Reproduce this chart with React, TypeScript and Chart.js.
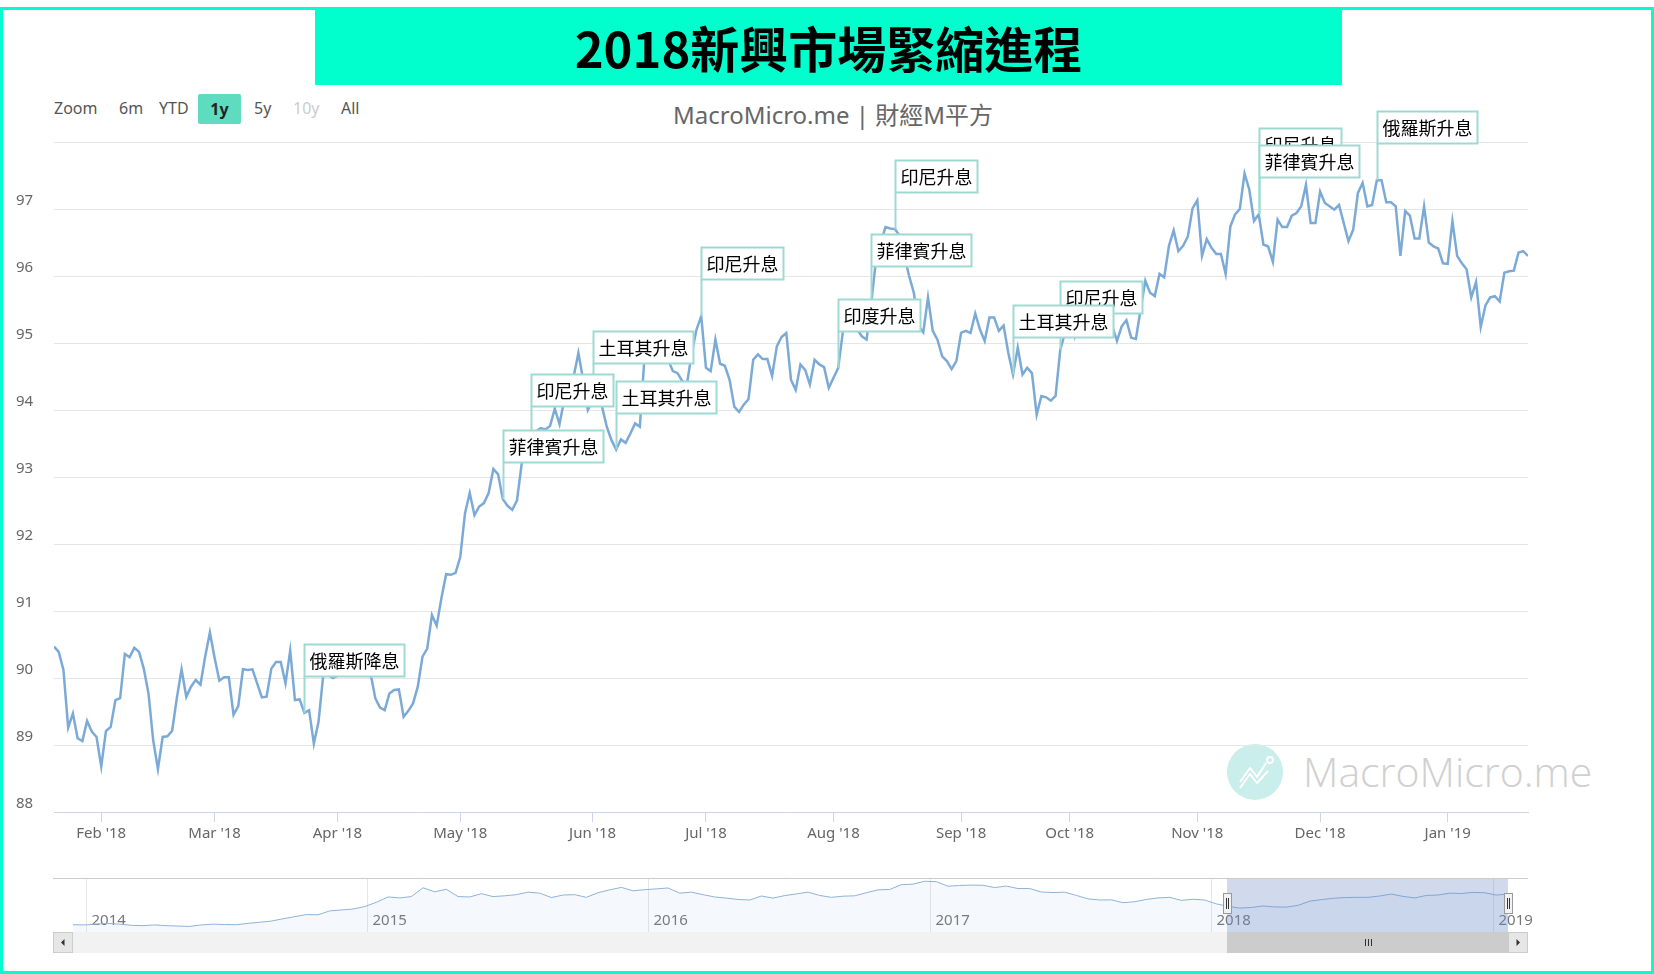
import React, { useEffect, useRef } from "react";
import { Chart, registerables } from "chart.js";

Chart.register(...registerables);

// ---- Main series: US Dollar Index, daily, Jan 2018 – Jan 2019 ----
const dxyValues: number[] = [
  90.47, 90.39, 90.12, 89.26, 89.47, 89.10, 89.06, 89.36, 89.20, 89.12, // 0
  88.68, 89.21, 89.27, 89.67, 89.70, 90.36, 90.31, 90.45, 90.39, 90.14, // 10
  89.77, 89.07, 88.64, 89.12, 89.13, 89.21, 89.70, 90.13, 89.72, 89.87, // 20
  89.97, 89.90, 90.32, 90.68, 90.30, 89.96, 90.01, 90.01, 89.45, 89.58, // 30
  90.13, 90.12, 90.13, 89.92, 89.71, 89.72, 90.14, 90.24, 90.24, 89.92, // 40
  90.41, 89.67, 89.68, 89.48, 89.52, 89.02, 89.35, 90.05, 90.05, 90.00, // 50
  90.03, 90.10, 90.20, 90.30, 90.25, 90.15, 90.10, 90.07, 89.70, 89.56, // 60
  89.52, 89.77, 89.82, 89.83, 89.42, 89.51, 89.62, 89.87, 90.32, 90.44, // 70
  90.94, 90.78, 91.19, 91.55, 91.54, 91.57, 91.81, 92.46, 92.76, 92.43, // 80
  92.56, 92.61, 92.76, 93.12, 93.04, 92.67, 92.57, 92.51, 92.65, 93.20, // 90
  93.35, 93.50, 93.68, 93.73, 93.71, 93.76, 94.02, 93.79, 94.15, 94.30, // 100
  94.50, 94.85, 94.45, 94.00, 94.15, 94.25, 94.05, 93.75, 93.55, 93.41, // 110
  93.56, 93.51, 93.65, 93.80, 93.75, 94.80, 94.95, 95.00, 94.90, 94.85, // 120
  94.75, 94.58, 94.55, 94.43, 94.40, 94.85, 95.20, 95.40, 94.63, 94.58, // 130
  95.05, 94.69, 94.66, 94.45, 94.05, 93.97, 94.08, 94.16, 94.75, 94.83, // 140
  94.76, 94.76, 94.51, 94.95, 95.09, 95.15, 94.45, 94.30, 94.68, 94.60, // 150
  94.38, 94.75, 94.68, 94.64, 94.33, 94.48, 94.63, 95.18, 95.20, 95.25, // 160
  95.20, 95.10, 95.05, 95.60, 96.25, 96.50, 96.73, 96.71, 96.70, 96.60, // 170
  96.30, 96.00, 95.75, 95.25, 95.16, 95.68, 95.18, 95.05, 94.80, 94.73, // 180
  94.61, 94.73, 95.15, 95.18, 95.15, 95.44, 95.20, 95.03, 95.38, 95.38, // 190
  95.18, 95.26, 94.85, 94.53, 94.93, 94.53, 94.63, 94.55, 93.93, 94.21, // 200
  94.19, 94.14, 94.21, 94.90, 95.15, 95.30, 95.10, 95.50, 95.80, 95.60, // 210
  95.55, 95.70, 95.65, 95.30, 95.25, 95.03, 95.25, 95.34, 95.08, 95.06, // 220
  95.50, 95.93, 95.75, 95.70, 96.03, 95.98, 96.45, 96.68, 96.37, 96.45, // 230
  96.59, 97.01, 97.13, 96.30, 96.55, 96.42, 96.33, 96.33, 96.03, 96.74, // 240
  96.92, 97.00, 97.53, 97.29, 96.82, 96.92, 96.47, 96.44, 96.21, 96.84, // 250
  96.73, 96.73, 96.90, 96.94, 97.04, 97.36, 96.79, 96.79, 97.26, 97.09, // 260
  97.04, 96.99, 97.06, 96.79, 96.52, 96.69, 97.24, 97.39, 97.04, 97.06, // 270
  97.43, 97.43, 97.10, 97.10, 97.04, 96.30, 96.97, 96.90, 96.56, 96.56, // 280
  97.04, 96.50, 96.44, 96.41, 96.19, 96.18, 96.82, 96.30, 96.19, 96.10, // 290
  95.68, 95.91, 95.24, 95.56, 95.68, 95.70, 95.62, 96.05, 96.07, 96.08, // 300
  96.35, 96.37, 96.30, // 310
];

// Month ticks (index of first trading day of each month in dxyValues)
const monthTickIndex: number[] = [10, 34, 60, 86, 114, 138, 165, 192, 215, 242, 268, 295];
const monthTickLabels: string[] = [
  "Feb '18", "Mar '18", "Apr '18", "May '18", "Jun '18", "Jul '18",
  "Aug '18", "Sep '18", "Oct '18", "Nov '18", "Dec '18", "Jan '19",
];

// Y axis
const yMin = 88;
const yMax = 98;

// Flags (rate decisions): data index + text
const flagIndex: number[] = [53, 95, 101, 114, 119, 137, 166, 173, 178, 203, 213, 255, 255, 280];
const flagText: string[] = [
  "俄羅斯降息", "菲律賓升息", "印尼升息", "土耳其升息", "土耳其升息", "印尼升息", "印度升息",
  "菲律賓升息", "印尼升息", "土耳其升息", "印尼升息", "菲律賓升息", "印尼升息", "俄羅斯升息",
];
const flagSeriesOrder: string[] = ["印尼", "印度", "菲律賓", "土耳其", "俄羅斯"];

// ---- Navigator series: Dollar index, half-monthly, Dec 2013 – Jan 2019 ----
const navValues: number[] = [
  80.3, 80.2,
  80.6, 81.0, 80.6, 80.0, 79.8, 80.2, 79.8, 79.6, 79.4, 80.2, 80.6, 80.4,
  80.3, 81.0, 81.6, 82.2, 83.4, 84.5, 85.6, 85.5, 87.5, 88.0, 88.5, 89.8,
  92.0, 94.8, 94.3, 95.0, 99.6, 97.5, 98.8, 95.0, 94.8, 96.5, 95.0, 95.4,
  96.0, 97.3, 96.8, 94.5, 95.8, 96.0, 94.6, 97.0, 98.5, 99.8, 98.0, 98.6,
  99.0, 99.5, 96.8, 97.3, 96.0, 94.8, 94.2, 93.5, 93.2, 95.3, 94.2, 95.5,
  96.4, 97.3, 95.6, 94.6, 95.2, 95.4, 97.0, 98.5, 98.7, 101.2, 101.5, 103.0,
  102.8, 100.4, 100.8, 101.0, 100.9, 99.7, 100.5, 99.2, 99.2, 97.4, 97.1, 97.3,
  95.6, 93.8, 93.2, 93.3, 91.8, 92.3, 93.5, 94.3, 94.6, 93.0, 93.6, 93.2,
  91.2, 89.9, 89.0, 89.3, 90.1, 89.6, 89.5, 90.4, 92.6, 93.4, 94.1, 94.5,
  94.6, 94.6, 95.3, 96.3, 95.1, 94.3, 95.6, 95.8, 96.8, 96.6, 97.2, 97.0,
  95.8, 96.3,
];
const navStart = 2013.955;
const navEnd = 2019.055;
const navYears: number[] = [2014, 2015, 2016, 2017, 2018, 2019];
const navSelection: number[] = [2018.055, 2019.055];

const LINE_COLOR = "#7caad7";
const FLAG_COLOR = "#9fd9d4";
const TEAL = "#00ffcc";
const LABEL_FONT = "'Noto Sans', 'Noto Sans CJK TC', sans-serif";

const flagPlugin = {
  id: "flagsPlugin",
  afterDatasetsDraw(chart: any) {
    const ctx = chart.ctx as CanvasRenderingContext2D;
    const xs = chart.scales.x;
    const ys = chart.scales.y;
    ctx.save();
    ctx.font = "18px 'Noto Sans CJK TC', sans-serif";
    const items = flagIndex.map((idx, k) => {
      let level = 0;
      for (let j = 0; j < k; j++) if (flagIndex[j] === idx) level++;
      const px = Math.round(xs.getPixelForValue(idx)) + 0.5;
      const py = ys.getPixelForValue(dxyValues[idx]);
      const w = Math.round(ctx.measureText(flagText[k]).width) + 10;
      const h = 32;
      const bottom = Math.round(py - 37 - level * 17) + 0.5;
      const order = flagSeriesOrder.findIndex((c) => flagText[k].startsWith(c));
      return { px, py, w, h, bottom, top: bottom - h, level, order, text: flagText[k] };
    });
    ctx.strokeStyle = FLAG_COLOR;
    ctx.lineWidth = 2;
    items.forEach((it) => {
      ctx.beginPath();
      ctx.moveTo(it.px, it.py);
      ctx.lineTo(it.px, it.bottom);
      ctx.stroke();
    });
    const sorted = [...items].sort((a, b) => (b.level - a.level) || (a.order - b.order));
    sorted.forEach((it) => {
      ctx.fillStyle = "#ffffff";
      ctx.fillRect(it.px, it.top, it.w, it.h);
      ctx.strokeStyle = FLAG_COLOR;
      ctx.lineWidth = 2;
      ctx.strokeRect(it.px, it.top, it.w, it.h);
      ctx.fillStyle = "#000000";
      ctx.textBaseline = "middle";
      ctx.textAlign = "left";
      ctx.fillText(it.text, it.px + 5, it.top + it.h / 2 + 1);
    });
    ctx.restore();
  },
};

const navPlugin = {
  id: "navPlugin",
  beforeDatasetsDraw(chart: any) {
    const ctx = chart.ctx as CanvasRenderingContext2D;
    const xs = chart.scales.x;
    const { top, bottom } = chart.chartArea;
    ctx.save();
    ctx.strokeStyle = "#e6e6e6";
    ctx.lineWidth = 1;
    ctx.fillStyle = "#777777";
    ctx.font = `15px ${LABEL_FONT}`;
    ctx.textBaseline = "middle";
    navYears.forEach((yr) => {
      const x = Math.round(xs.getPixelForValue(yr)) + 0.5;
      ctx.beginPath();
      ctx.moveTo(x, top);
      ctx.lineTo(x, bottom);
      ctx.stroke();
      ctx.fillText(String(yr), x + 5, bottom - 11);
    });
    ctx.restore();
  },
  afterDatasetsDraw(chart: any) {
    const ctx = chart.ctx as CanvasRenderingContext2D;
    const xs = chart.scales.x;
    const { left, right, top, bottom } = chart.chartArea;
    const btn = 20;
    const x0 = Math.round(xs.getPixelForValue(navSelection[0]));
    const x1 = Math.round(xs.getPixelForValue(navSelection[1]));
    ctx.save();
    // mask
    ctx.fillStyle = "rgba(102,133,194,0.3)";
    ctx.fillRect(x0, top, x1 - x0, bottom - top);
    // outline
    ctx.strokeStyle = "#cccccc";
    ctx.lineWidth = 1;
    ctx.beginPath();
    ctx.moveTo(left - btn, top + 0.5);
    ctx.lineTo(right + btn, top + 0.5);
    ctx.stroke();
    // handles
    [x0, x1].forEach((hx) => {
      const hy = top + 15;
      ctx.fillStyle = "#f2f2f2";
      ctx.fillRect(hx - 4 + 0.5, hy + 0.5, 8, 20);
      ctx.strokeStyle = "#999999";
      ctx.strokeRect(hx - 4 + 0.5, hy + 0.5, 8, 20);
      ctx.strokeStyle = "#333333";
      ctx.beginPath();
      ctx.moveTo(hx - 1 + 0.5, hy + 5);
      ctx.lineTo(hx - 1 + 0.5, hy + 16);
      ctx.moveTo(hx + 1 + 0.5, hy + 5);
      ctx.lineTo(hx + 1 + 0.5, hy + 16);
      ctx.stroke();
    });
    // scrollbar
    const sTop = bottom;
    const sH = 21;
    ctx.fillStyle = "#f2f2f2";
    ctx.fillRect(left - btn, sTop, right - left + 2 * btn, sH);
    ctx.fillStyle = "#cccccc";
    ctx.fillRect(x0, sTop, x1 - x0, sH);
    // grip
    const gx = Math.round((x0 + x1) / 2);
    ctx.strokeStyle = "#333333";
    ctx.lineWidth = 1;
    ctx.beginPath();
    [-3, 0, 3].forEach((d) => {
      ctx.moveTo(gx + d + 0.5, sTop + 7);
      ctx.lineTo(gx + d + 0.5, sTop + 14);
    });
    ctx.stroke();
    // buttons
    [left - btn, right].forEach((bx, k) => {
      ctx.fillStyle = "#e6e6e6";
      ctx.fillRect(bx, sTop, btn, sH);
      ctx.strokeStyle = "#cccccc";
      ctx.strokeRect(bx + 0.5, sTop + 0.5, btn - 1, sH - 1);
      ctx.fillStyle = "#333333";
      const cx = bx + btn / 2;
      const cy = sTop + sH / 2;
      ctx.beginPath();
      if (k === 0) {
        ctx.moveTo(cx + 1.5, cy - 3.5);
        ctx.lineTo(cx + 1.5, cy + 3.5);
        ctx.lineTo(cx - 2, cy);
      } else {
        ctx.moveTo(cx - 1.5, cy - 3.5);
        ctx.lineTo(cx - 1.5, cy + 3.5);
        ctx.lineTo(cx + 2, cy);
      }
      ctx.closePath();
      ctx.fill();
    });
    ctx.restore();
  },
};

export default function App() {
  const mainRef = useRef<HTMLCanvasElement>(null);
  const navRef = useRef<HTMLCanvasElement>(null);

  useEffect(() => {
    const main = new Chart(mainRef.current as HTMLCanvasElement, {
      type: "line",
      data: {
        datasets: [
          {
            data: dxyValues.map((v, i) => ({ x: i, y: v })),
            borderColor: LINE_COLOR,
            borderWidth: 2.5,
            pointRadius: 0,
            tension: 0,
            fill: false,
          },
        ],
      },
      options: {
        responsive: false,
        animation: false,
        layout: { padding: { left: 16, right: 126, top: 142, bottom: 122 } },
        plugins: { legend: { display: false }, tooltip: { enabled: false }, title: { display: false } },
        scales: {
          x: {
            type: "linear",
            min: 0,
            max: dxyValues.length - 1,
            afterBuildTicks: (s: any) => {
              s.ticks = monthTickIndex.map((v) => ({ value: v }));
            },
            afterFit: (s: any) => {
              s.height = 40;
            },
            ticks: {
              autoSkip: false,
              maxRotation: 0,
              minRotation: 0,
              padding: 3,
              color: "#666666",
              font: { family: LABEL_FONT, size: 15 },
              callback: (v: any) => {
                const k = monthTickIndex.indexOf(Number(v));
                return k >= 0 ? monthTickLabels[k] : "";
              },
            },
            grid: { drawOnChartArea: false, drawTicks: true, tickLength: 10, color: "#ccd6eb" },
            border: { display: true, color: "#ccd6eb" },
          },
          y: {
            min: yMin,
            max: yMax,
            afterFit: (s: any) => {
              s.width = 38;
            },
            ticks: {
              stepSize: 1,
              color: "#666666",
              font: { family: LABEL_FONT, size: 15 },
              crossAlign: "far",
              labelOffset: -8,
              padding: 0,
              callback: (v: any) => (Number(v) === yMax ? "" : String(v)),
            },
            grid: { color: "#e6e6e6", drawTicks: false },
            border: { display: false },
          },
        },
      } as any,
      plugins: [flagPlugin],
    });

    const nav = new Chart(navRef.current as HTMLCanvasElement, {
      type: "line",
      data: {
        datasets: [
          {
            data: navValues.map((v, i) => ({
              x: navStart + (i * (navEnd - navStart)) / (navValues.length - 1),
              y: v,
            })),
            borderColor: "#8fb3d8",
            borderWidth: 1,
            pointRadius: 0,
            tension: 0,
            fill: "start",
            backgroundColor: "rgba(124,170,214,0.08)",
          },
        ],
      },
      options: {
        responsive: false,
        animation: false,
        layout: { padding: { left: 73, right: 146, top: 878, bottom: 42 } },
        plugins: { legend: { display: false }, tooltip: { enabled: false } },
        scales: {
          x: { type: "linear", display: false, min: navStart, max: navEnd },
          y: { display: false, min: 76.5, max: 104.7 },
        },
      } as any,
      plugins: [navPlugin],
    });

    return () => {
      main.destroy();
      nav.destroy();
    };
  }, []);

  const abs = (l: number, t: number, extra: React.CSSProperties = {}): React.CSSProperties => ({
    position: "absolute",
    left: l,
    top: t,
    ...extra,
  });

  const rsText: React.CSSProperties = {
    fontFamily: LABEL_FONT,
    fontSize: 16,
    color: "#555555",
    lineHeight: "30px",
    height: 30,
    whiteSpace: "nowrap",
  };

  return (
    <div
      style={{
        position: "absolute",
        left: 0,
        top: 0,
        width: 1654,
        height: 974,
        background: "#ffffff",
        overflow: "hidden",
      }}
    >
      {/* outer frame */}
      <div
        style={abs(0, 7, {
          width: 1654,
          height: 967,
          boxSizing: "border-box",
          border: `3px solid ${TEAL}`,
        })}
      />
      {/* banner */}
      <div
        style={abs(315, 9, {
          width: 1027,
          height: 76,
          background: TEAL,
          textAlign: "center",
          lineHeight: "76px",
          fontFamily: "'Noto Sans CJK TC', sans-serif",
          fontWeight: 700,
          fontSize: 49,
          color: "#000000",
        })}
      >
        2018新興市場緊縮進程
      </div>

      {/* range selector */}
      <div style={abs(54, 93, rsText)}>Zoom</div>
      <div style={abs(119, 93, rsText)}>6m</div>
      <div style={abs(159, 93, rsText)}>YTD</div>
      <div
        style={abs(198, 94, {
          ...rsText,
          width: 43,
          textAlign: "center",
          background: "#5fdcbf",
          borderRadius: 2,
          fontWeight: 700,
          color: "#222222",
        })}
      >
        1y
      </div>
      <div style={abs(254, 93, rsText)}>5y</div>
      <div style={abs(293, 93, { ...rsText, color: "#cccccc" })}>10y</div>
      <div style={abs(341, 93, rsText)}>All</div>

      {/* chart title */}
      <div
        style={abs(533, 98, {
          width: 600,
          textAlign: "center",
          fontFamily: LABEL_FONT,
          fontSize: 24,
          lineHeight: "34px",
          color: "#666666",
        })}
      >
        MacroMicro.me | 財經M平方
      </div>

      {/* watermark */}
      <svg style={abs(1227, 744)} width={56} height={56} viewBox="0 0 56 56">
        <circle cx={28} cy={28} r={28} fill="#c9eeeb" />
        <polyline
          points="13,38 23,24 30,33 39,19"
          fill="none"
          stroke="#ffffff"
          strokeWidth={2}
          strokeLinejoin="round"
        />
        <polyline
          points="13,44 23,30 30,39 41,27"
          fill="none"
          stroke="#ffffff"
          strokeWidth={2}
          strokeLinejoin="round"
        />
        <circle cx={43} cy={16} r={3} fill="none" stroke="#ffffff" strokeWidth={2} />
      </svg>
      <div
        style={abs(1303, 745, {
          fontFamily: "'Open Sans', sans-serif",
          fontWeight: 300,
          fontSize: 41,
          lineHeight: "52px",
          color: "#d0d0d0",
          whiteSpace: "nowrap",
        })}
      >
        MacroMicro.me
      </div>

      <canvas ref={mainRef} width={1654} height={974} style={abs(0, 0, { pointerEvents: "none" })} />
      <canvas ref={navRef} width={1654} height={974} style={abs(0, 0, { pointerEvents: "none" })} />
    </div>
  );
}
